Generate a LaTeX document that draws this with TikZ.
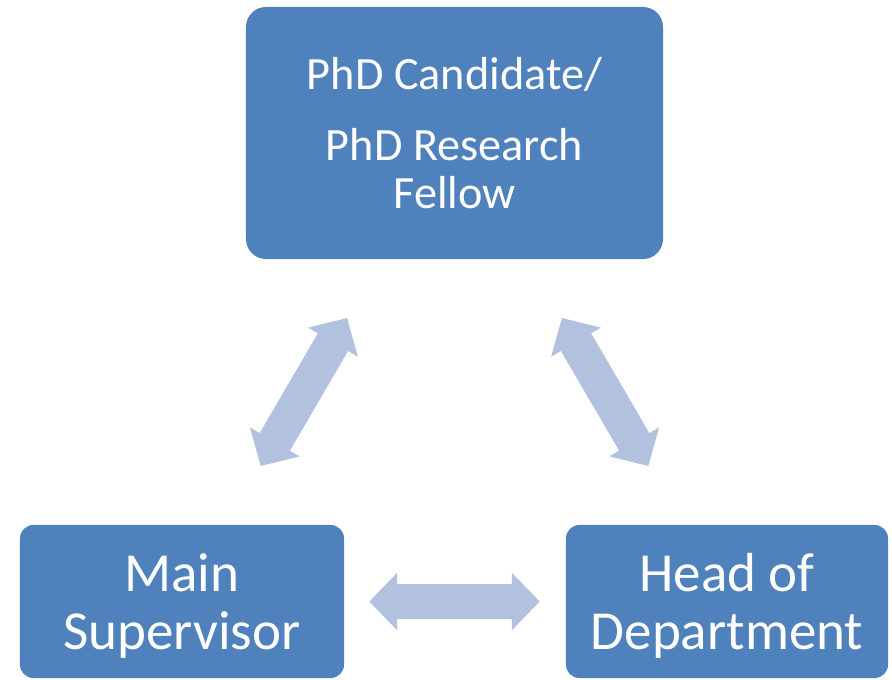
\documentclass[tikz,border=0pt]{standalone}
\usepackage{fontspec}
\setmainfont{Carlito}
\usepackage{tikz}
\usetikzlibrary{arrows.meta,positioning}
\definecolor{boxblue}{HTML}{4F81BD}
\definecolor{arrowblue}{HTML}{B2C1DD}
\tikzstyle{dblarrow}=[draw=arrowblue, line width=1.05cm, {Triangle[length=0.84cm,width=1.68cm]}-{Triangle[length=0.84cm,width=1.68cm]}]

\begin{document}
\begin{tikzpicture}[
        x=0.03cm, y=-0.03cm,
        every node/.style={rectangle, fill=boxblue, text=white, align=center, inner sep=0pt},
        bigbox/.style={minimum width=12.51cm, minimum height=7.56cm, rounded corners=0.6cm, font=\fontsize{39.5}{41}\selectfont},
        smallbox/.style={minimum height=4.59cm, rounded corners=0.4cm, text depth=0pt, font=\fontsize{47}{49.3}\selectfont}
    ]
    \useasboundingbox (0,0) rectangle (892,680);

    % Define Nodes
    \node (phd) [bigbox] at (454.5,133) {PhD Candidate/\\[19pt] PhD Research\\ Fellow};

    \node (super) [smallbox, minimum width=9.72cm] at (182,601.5) {Main\\ Supervisor};

    \node (hod) [smallbox, minimum width=9.66cm] at (727,601.5) {Head of\\ Department};

    % Draw Arrows
    \draw[dblarrow, shorten <=2.04cm, shorten >=2.04cm] (phd) -- (super);
    \draw[dblarrow, shorten <=2.04cm, shorten >=2.04cm] (phd) -- (hod);
    \draw[dblarrow, shorten <=0.75cm, shorten >=0.78cm] (super) -- (hod);

\end{tikzpicture}
\end{document}
